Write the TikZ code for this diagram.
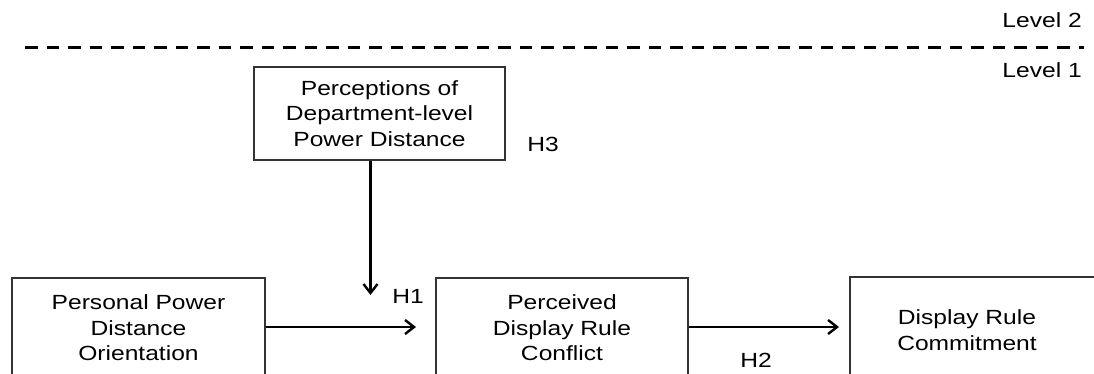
\documentclass[tikz,border=0pt]{standalone}
\usepackage{fontspec}
\setmainfont{Liberation Sans}[FakeStretch=1.2]
\usetikzlibrary{arrows.meta}
\begin{document}
\begin{tikzpicture}[x=1pt,y=-1pt,
  txtfont/.style={font=\fontsize{20.5}{25.6}\selectfont},
  box/.style={draw=black!80, line width=1.2pt, align=center, inner sep=0pt, txtfont},
  lbl/.style={anchor=base, inner sep=0pt, txtfont},
  conn/.style={line width=2.6pt, -{Straight Barb[length=9pt,width=14pt,line width=2.4pt]}},
  levelline/.style={line width=3.2pt, dash pattern=on 12.5pt off 9pt}]
\useasboundingbox (0,0) rectangle (1094,374);
\clip (0,0) rectangle (1094,374);
% level separator
\draw[levelline] (25,47.5) -- (1084,47.5);
\node[lbl, anchor=base east] (lev2) at (1082,27.5) {Level 2};
\node[lbl, anchor=base east] (lev1) at (1082,77.5) {Level 1};
% boxes
\node[box, minimum width=251pt, minimum height=93pt] (dept) at (379.5,113.5)
  {Perceptions of\\Department-level\\Power Distance};
\node[box, minimum width=253pt, minimum height=100pt] (personal) at (138.5,328)
  {Personal Power\\Distance\\Orientation};
\node[box, minimum width=252pt, minimum height=100pt] (conflict) at (562,328)
  {Perceived\\Display Rule\\Conflict};
\node[box, minimum width=270pt, minimum height=106pt] (commit) at (985,330) {};
\node[lbl, anchor=center, align=center] (committxt) at (967,330) {Display Rule\\Commitment};
% connector ends
\coordinate (h3end) at (370.5,295);
\coordinate (h1end) at (416,327);
\coordinate (h2end) at (839,327);
% connectors
\draw[conn] (h3end |- dept.south) -- (h3end);
\draw[conn] (personal.east |- h1end) -- (h1end);
\draw[conn] (conflict.east |- h2end) -- (h2end);
% labels
\node[lbl] (h3) at (543,152) {H3};
\node[lbl] (h1) at (408,303) {H1};
\node[lbl] (h2) at (756,367) {H2};
\end{tikzpicture}
\end{document}
